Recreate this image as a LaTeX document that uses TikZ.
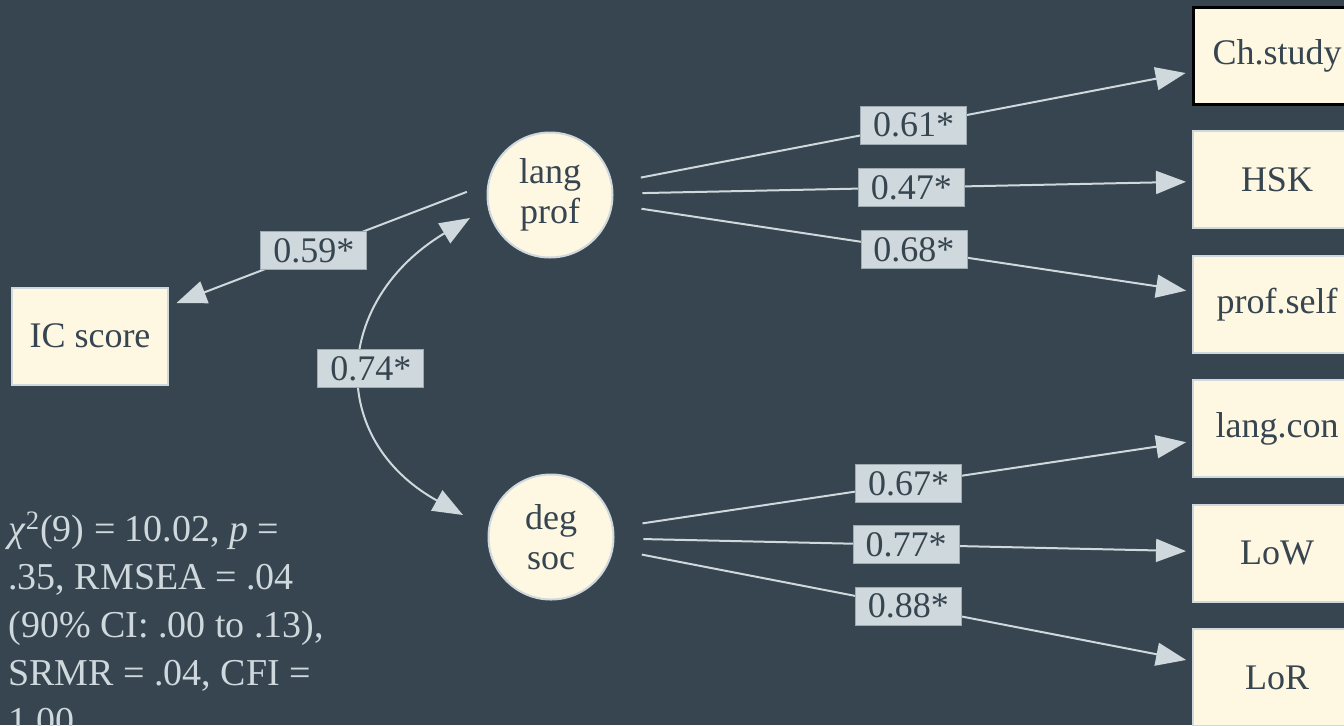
\documentclass[tikz,border=0pt]{standalone}
\usepackage{fontspec}
\setmainfont{Liberation Serif}
\usetikzlibrary{arrows.meta,calc}
\definecolor{bg}{HTML}{36454F}
\definecolor{cream}{HTML}{FEF7E1}
\definecolor{edgec}{HTML}{CFD8DC}
\definecolor{ink}{HTML}{36454F}
\definecolor{lblfill}{HTML}{CFD8DC}
\definecolor{lbldraw}{HTML}{9EABB2}
\begin{document}
\begin{tikzpicture}[x=0.5pt,y=-0.5pt,
  obs/.style={rectangle,draw=edgec,fill=cream,line width=1pt,text=ink,
    minimum width=84pt,minimum height=48.5pt,inner sep=0pt,
    font=\fontsize{18pt}{20pt}\selectfont},
  lat/.style={circle,draw=edgec,fill=cream,line width=1pt,text=ink,
    minimum size=62.5pt,inner sep=0pt,align=center,
    font=\fontsize{18pt}{20pt}\selectfont},
  pathe/.style={draw=edgec,line width=1pt,-{Triangle[length=15pt,width=11.5pt]}},
  lbl/.style={fill=lblfill,draw=lbldraw,line width=0.4pt,text=ink,inner sep=0pt,
    minimum width=53pt,minimum height=19pt,
    font=\fontsize{18pt}{20pt}\selectfont}
]
\useasboundingbox (0,0) rectangle (1344,725);
\fill[bg] (0,0) rectangle (1344,725);

% observed
\node[obs,draw=black,line width=1.5pt] (ch) at (1277,55.5) {Ch.study};
\node[obs] (hsk) at (1277,179.9) {HSK};
\node[obs] (pself) at (1277,304.3) {prof.self};
\node[obs] (lcon) at (1277,428.7) {lang.con};
\node[obs] (low) at (1277,553.1) {LoW};
\node[obs] (lor) at (1277,677.5) {LoR};
\node[obs,minimum width=78pt] (ic) at (90,336) {IC score};

% latent
\node[lat] (lprof) at (550,195) {lang\\prof};
\node[lat] (dsoc) at (551,537) {deg\\soc};

% loadings
\draw[pathe,shorten <=14.5pt,shorten >=3pt] (lprof) -- node[lbl,pos=0.52]{0.61*} (ch);
\draw[pathe,shorten <=14.5pt,shorten >=3pt] (lprof) -- node[lbl,pos=0.515]{0.47*} (hsk);
\draw[pathe,shorten <=14.5pt,shorten >=3pt] (lprof) -- node[lbl,pos=0.52]{0.68*} (pself);
\draw[pathe,shorten <=14.5pt,shorten >=3pt] (dsoc) -- node[lbl,pos=0.51]{0.67*} (lcon);
\draw[pathe,shorten <=14.5pt,shorten >=3pt] (dsoc) -- node[lbl,pos=0.505]{0.77*} (low);
\draw[pathe,shorten <=14.5pt,shorten >=3pt] (dsoc) -- node[lbl,pos=0.51]{0.88*} (lor);

% regression to IC score
\draw[pathe,shorten <=44.5pt,shorten >=4pt] ($(lprof)+(0,-35)$) -- node[lbl,pos=0.62]{0.59*} (ic);

% covariance
\draw[draw=edgec,line width=1pt,{Triangle[length=15pt,width=11.5pt]}-{Triangle[length=15pt,width=11.5pt]}]
  ($(lprof)+(-80,23)$) .. controls ($(lprof)+(-217,105)$) and ($(dsoc)+(-225,-98)$) ..
  node[lbl,pos=0.5,xshift=3.5pt]{0.74*} ($(dsoc)+(-88,-22)$);

% fit text
\node[anchor=north west,text=edgec,align=left,inner sep=0pt,
  font=\fontsize{19pt}{24pt}\selectfont] (fit) at (8,511)
  {\textit{χ}\textsuperscript{2}(9) = 10.02, \textit{p} =\\
   .35, RMSEA = .04\\
   (90\% CI: .00 to .13),\\
   SRMR = .04, CFI =\\
   1.00};
\end{tikzpicture}
\end{document}
